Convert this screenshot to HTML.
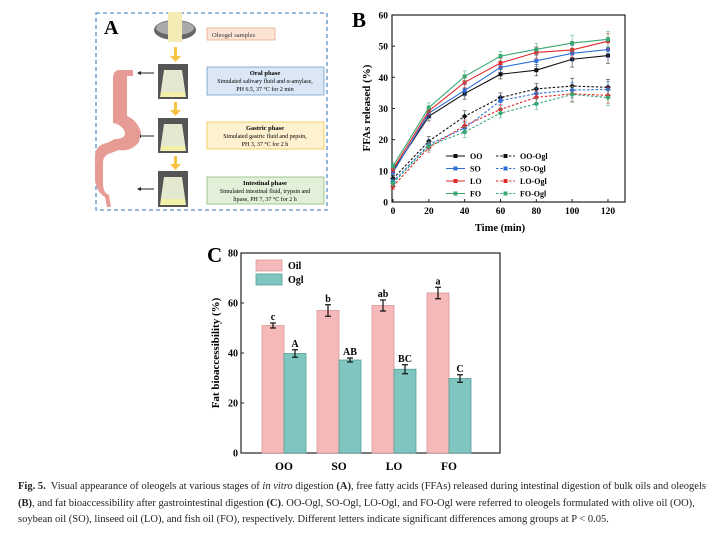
<!DOCTYPE html>
<html><head><meta charset="utf-8"><style>
body{margin:0;background:#fff;width:724px;height:535px;overflow:hidden;font-family:"Liberation Serif",serif}
svg{position:absolute;left:0;top:0}
.cap{position:absolute;left:18px;top:479px;width:706px;font-size:10.5px;line-height:16.5px;color:#222;white-space:nowrap}
</style></head><body>
<svg width="724" height="535">
<g font-family="Liberation Serif, serif">
<rect x="96" y="13" width="231" height="197" fill="none" stroke="#5b8fc4" stroke-width="1.3" stroke-dasharray="4,3"/>
<text x="104" y="34" font-size="20" font-weight="bold">A</text>
<ellipse cx="175" cy="30" rx="21" ry="10" fill="#666"/><ellipse cx="175" cy="28" rx="19" ry="7" fill="#aaa"/>
<rect x="168" y="12" width="14" height="30" fill="#f4ecb5"/>
<g fill="#555"><rect x="158" y="64" width="30" height="35"/><rect x="158" y="118" width="30" height="35"/><rect x="158" y="171" width="30" height="36"/></g>
<g fill="#e4e8d0"><path d="M164 70h18l4 27h-26z"/><path d="M164 124h18l4 27h-26z"/><path d="M164 177h18l4 28h-26z"/></g>
<g fill="#f5f0a8"><rect x="161" y="92" width="24" height="5"/><rect x="161" y="146" width="24" height="5"/><rect x="161" y="199" width="24" height="6"/></g>
<g fill="#f6c343"><rect x="174" y="47" width="3" height="10"/><path d="M170 56h11l-5.5 6z"/><rect x="174" y="102" width="3" height="9"/><path d="M170 110h11l-5.5 6z"/><rect x="174" y="156" width="3" height="9"/><path d="M170 164h11l-5.5 6z"/></g>
<g stroke="#222" stroke-width="1"><line x1="140" y1="73" x2="154" y2="73"/><line x1="140" y1="136" x2="154" y2="136"/><line x1="140" y1="189" x2="154" y2="189"/></g>
<g fill="#222"><path d="M137 73l4-2v4z"/><path d="M137 136l4-2v4z"/><path d="M137 189l4-2v4z"/></g>
<g fill="#e69c95"><path d="M122 70h11v6h-6v40q10 4 14 16l-2 10q-8 10-20 8l-8 3q-8 2-8 10v20q0 10 6 12l2 12h-4l-2-10q-10-6-10-20v-20q0-12 12-14l8-4q10 0 10-6q-2-8-12-10v-45q0-8 7-8z"/></g>
<rect x="207" y="28" width="68" height="12" fill="#fbe3d5" stroke="#eaa88a" stroke-width="0.8"/>
<text x="212" y="37" font-size="6.5" fill="#333">Oleogel samples</text>
<rect x="207" y="67" width="117" height="28" fill="#dbe7f4" stroke="#6fa0d0" stroke-width="0.8"/>
<text x="265" y="75" font-size="6.5" font-weight="bold" text-anchor="middle">Oral phase</text>
<text x="265" y="83" font-size="6" text-anchor="middle">Simulated salivary fluid and α-amylase,</text>
<text x="265" y="91" font-size="6" text-anchor="middle">PH 6.5, 37 °C for 2 min</text>
<rect x="207" y="122" width="117" height="27" fill="#fdf1cf" stroke="#f3c94c" stroke-width="0.8"/>
<text x="265" y="130" font-size="6.5" font-weight="bold" text-anchor="middle">Gastric phase</text>
<text x="265" y="138" font-size="6" text-anchor="middle">Simulated gastric fluid and pepsin,</text>
<text x="265" y="146" font-size="6" text-anchor="middle">PH 3, 37 °C for 2 h</text>
<rect x="207" y="177" width="117" height="27" fill="#e2efd9" stroke="#8db97a" stroke-width="0.8"/>
<text x="265" y="185" font-size="6.5" font-weight="bold" text-anchor="middle">Intestinal phase</text>
<text x="265" y="193" font-size="6" text-anchor="middle">Simulated intestinal fluid, trypsin and</text>
<text x="265" y="201" font-size="6" text-anchor="middle">lipase, PH 7, 37 °C for 2 h</text>
</g>
<g id="pb" font-family="Liberation Serif, serif" font-weight="bold"></g>
<g id="pc" font-family="Liberation Serif, serif" font-weight="bold"></g>
</svg>
<div class="cap"><b>Fig. 5.</b>&nbsp; Visual appearance of oleogels at various stages of <i>in vitro</i> digestion <b>(A)</b>, free fatty acids (FFAs) released during intestinal digestion of bulk oils and oleogels<br><b>(B)</b>, and fat bioaccessibility after gastrointestinal digestion <b>(C)</b>. OO-Ogl, SO-Ogl, LO-Ogl, and FO-Ogl were referred to oleogels formulated with olive oil (OO),<br>soybean oil (SO), linseed oil (LO), and fish oil (FO), respectively. Different letters indicate significant differences among groups at P &lt; 0.05.</div>
<script>
const times=[0,20,40,60,80,100,120];
const xTicksB=[0,20,40,60,80,100,120];
const yTicksB=[0,10,20,30,40,50,60];
const seriesNames=["OO","SO","LO","FO","OO-Ogl","SO-Ogl","LO-Ogl","FO-Ogl"];
const ffaOO=[10,27.5,34.8,41,42.3,45.8,47];
const ffaSO=[9.5,28.5,35.8,43.2,45.3,47.7,48.9];
const ffaLO=[10.5,29.2,38.4,44.6,48,48.8,51.6];
const ffaFO=[11.5,30.3,40.3,46.8,49,51,52.2];
const ffaOOOgl=[7.5,19.5,27.5,33.5,36.3,37.2,36.8];
const ffaSOOgl=[6.5,18.5,23.7,32.5,34.8,35.9,36.1];
const ffaLOOgl=[5,17.5,24.5,29.7,33.6,34.7,34.2];
const ffaFOOgl=[6,18,22.5,28.5,31.5,34.5,33.5];
const errB=[1,1.5,1.8,1.5,1.8,2.5,2.5];
const categoriesC=["OO","SO","LO","FO"];
const oilVals=[51,57,59,64];
const oglVals=[39.8,37.2,33.5,29.8];
const oilErr=[1,2.3,2.2,2.3];
const oglErr=[1.5,0.8,1.8,1.5];
const oilLetters=["c","b","ab","a"];
const oglLetters=["A","AB","BC","C"];
const yTicksC=[0,20,40,60,80];
const NS="http://www.w3.org/2000/svg";
function mk(p,t,a,txt){const e=document.createElementNS(NS,t);for(const k in a)e.setAttribute(k,a[k]);if(txt!==undefined)e.textContent=txt;p.appendChild(e);return e;}
const pb=document.getElementById('pb');
const bx=v=>393+v*(608-393)/120, by=v=>202-v*(202-15)/60;
mk(pb,'rect',{x:392,y:15,width:233,height:187,fill:'none',stroke:'#222','stroke-width':1.2});
const bL=mk(pb,'text',{x:352,y:27,'font-size':21},'B');

xTicksB.forEach(t=>{mk(pb,'line',{x1:bx(t),y1:202,x2:bx(t),y2:199,stroke:'#222'});
 const e=mk(pb,'text',{x:bx(t),y:214,'font-size':9.5,'text-anchor':'middle'},t);
 });
yTicksB.forEach(t=>{mk(pb,'line',{x1:392,y1:by(t),x2:395,y2:by(t),stroke:'#222'});
 const e=mk(pb,'text',{x:388,y:by(t)+3.5,'font-size':9.5,'text-anchor':'end'},t);
 });
const bxt=mk(pb,'text',{x:500,y:231,'font-size':10.5,'text-anchor':'middle'},'Time (min)');

const byt=mk(pb,'text',{x:0,y:0,'font-size':11,'text-anchor':'middle',transform:'translate(370,108) rotate(-90)'},'FFAs released (%)');

const colors=['#111','#2e6fd6','#e0292c','#3aa872'];
const allB=[ffaOO,ffaSO,ffaLO,ffaFO,ffaOOOgl,ffaSOOgl,ffaLOOgl,ffaFOOgl];
allB.forEach((s,i)=>{const c=colors[i%4],dash=i>=4;
 const g=mk(pb,'g',{});
 
 mk(g,'polyline',{points:s.map((v,j)=>bx(times[j])+','+by(v)).join(' '),fill:'none',stroke:c,'stroke-width':1.1,'stroke-dasharray':dash?'2.5,1.8':'none'});
 s.forEach((v,j)=>{const x=bx(times[j]),e=errB[j];
  mk(g,'line',{x1:x,y1:by(v-e),x2:x,y2:by(v+e),stroke:c,'stroke-width':0.7,opacity:0.7});
  mk(g,'line',{x1:x-2,y1:by(v+e),x2:x+2,y2:by(v+e),stroke:c,'stroke-width':0.7,opacity:0.7});
  mk(g,'line',{x1:x-2,y1:by(v-e),x2:x+2,y2:by(v-e),stroke:c,'stroke-width':0.7,opacity:0.7});
  const m=mk(g,'rect',{x:x-2,y:by(v)-2,width:4,height:4,fill:c,transform:dash?`rotate(45 ${x} ${by(v)})`:''});
  });
});
seriesNames.forEach((n,i)=>{const col=i<4?0:1,row=i%4,x=col?518:468,y=156+row*12.5,c=colors[i%4];
 const g=mk(pb,'g',{});
 
 mk(g,'line',{x1:x-22,y1:y,x2:x-3,y2:y,stroke:c,'stroke-width':1.1,'stroke-dasharray':col?'2.5,1.8':'none'});
 mk(g,'rect',{x:x-14.5,y:y-2,width:4,height:4,fill:c});
 mk(g,'text',{x:x+2,y:y+3,'font-size':8},n);});
const pc=document.getElementById('pc');
const cy=v=>453-v*(453-253)/80;
mk(pc,'rect',{x:241,y:253,width:259,height:200,fill:'none',stroke:'#222','stroke-width':1.2});
const cL=mk(pc,'text',{x:207,y:262,'font-size':21},'C');

yTicksC.forEach(t=>{mk(pc,'line',{x1:241,y1:cy(t),x2:244,y2:cy(t),stroke:'#222'});
 const e=mk(pc,'text',{x:238,y:cy(t)+3.5,'font-size':10,'text-anchor':'end'},t);
 });
const cyt=mk(pc,'text',{x:0,y:0,'font-size':11,'text-anchor':'middle',transform:'translate(219,353) rotate(-90)'},'Fat bioaccessibility (%)');

function err(p,x,v,e){mk(p,'line',{x1:x,y1:cy(v-e),x2:x,y2:cy(v+e),stroke:'#111','stroke-width':1.2});
 mk(p,'line',{x1:x-3,y1:cy(v+e),x2:x+3,y2:cy(v+e),stroke:'#111','stroke-width':1.2});
 mk(p,'line',{x1:x-3,y1:cy(v-e),x2:x+3,y2:cy(v-e),stroke:'#111','stroke-width':1.2});}
categoriesC.forEach((c,i)=>{const cx=284+i*55;
 const b1=mk(pc,'rect',{x:cx-22,y:cy(oilVals[i]),width:22,height:453-cy(oilVals[i]),fill:'#f6b9b9',stroke:'#d89a9a','stroke-width':0.8});
 
 const b2=mk(pc,'rect',{x:cx,y:cy(oglVals[i]),width:22,height:453-cy(oglVals[i]),fill:'#7fc6c0',stroke:'#5a9d98','stroke-width':0.8});
 
 err(pc,cx-11,oilVals[i],oilErr[i]);err(pc,cx+11,oglVals[i],oglErr[i]);
 mk(pc,'text',{x:cx-11,y:cy(oilVals[i]+oilErr[i])-3,'font-size':10,'text-anchor':'middle'},oilLetters[i]);
 mk(pc,'text',{x:cx+11,y:cy(oglVals[i]+oglErr[i])-3,'font-size':10,'text-anchor':'middle'},oglLetters[i]);
 const t=mk(pc,'text',{x:cx,y:470,'font-size':11.5,'text-anchor':'middle'},c);
 });
[['Oil','#f6b9b9','#d89a9a'],['Ogl','#7fc6c0','#5a9d98']].forEach((l,i)=>{const y=260+i*14;
 const g=mk(pc,'g',{});
 
 mk(g,'rect',{x:256,y:y,width:26,height:11,fill:l[1],stroke:l[2],'stroke-width':0.8});
 mk(g,'text',{x:288,y:y+9,'font-size':10},l[0]);});
</script>
</body></html>
